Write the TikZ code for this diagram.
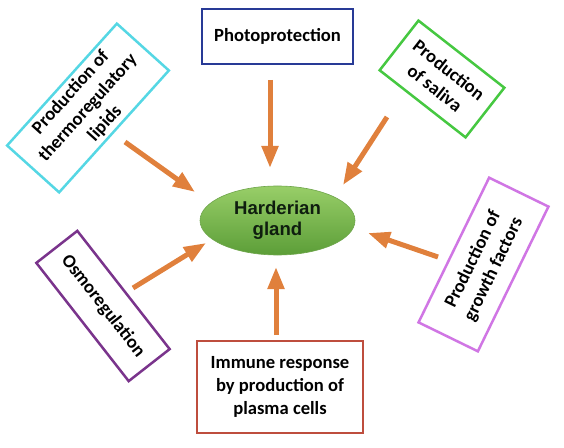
\documentclass[tikz,border=0pt]{standalone}
\usepackage{fontspec}
\setmainfont{Carlito}
\newfontfamily\glandfont{Liberation Sans}
\usetikzlibrary{shapes.geometric, arrows.meta}
\definecolor{feedorange}{RGB}{224,128,60}
\definecolor{photoblue}{RGB}{40,58,150}
\definecolor{thermocyan}{RGB}{85,215,228}
\definecolor{salivagreen}{RGB}{70,200,65}
\definecolor{growthpink}{RGB}{208,118,228}
\definecolor{osmopurple}{RGB}{122,52,140}
\definecolor{immunered}{RGB}{190,78,62}

\begin{document}
\begin{tikzpicture}[x=1bp, y=-1bp,
    role/.style={draw, line width=2.5bp, fill=white, align=center, inner sep=0pt,
      font=\fontsize{18.6bp}{23bp}\selectfont\bfseries},
    glandnode/.style={ellipse, draw={rgb,255:red,110;green,165;blue,75}, line width=0.6bp,
      top color={rgb,255:red,152;green,206;blue,104}, bottom color={rgb,255:red,92;green,158;blue,56},
      minimum width=155bp, minimum height=69bp, inner sep=0pt, align=center,
      text={rgb,255:red,15;green,30;blue,15}, font=\glandfont\fontsize{18.6bp}{21bp}\selectfont\bfseries},
    feed/.style={draw=feedorange, line width=5bp, -{Triangle[length=22bp,width=16bp]}}]
    \useasboundingbox (0,0) rectangle (564,448);
    % boxes round the gland
    \node[role, draw=photoblue, minimum width=151bp, minimum height=55bp] (photo) at (277.5,36.5) {Photoprotection};
    \node[role, draw=thermocyan, rotate=48, minimum width=164bp, minimum height=70bp] (thermo) at (88,108) {Production of\\thermoregulatory\\lipids};
    \node[role, draw=salivagreen, rotate=-38, minimum width=109bp, minimum height=63bp] (saliva) at (442,79) {Production\\of saliva};
    \node[role, draw=growthpink, rotate=64, minimum width=161bp, minimum height=66bp] (growth) at (483.5,264.5) {Production of\\growth factors};
    \node[role, draw=osmopurple, rotate=-52, minimum width=150bp, minimum height=52bp] (osmo) at (103,306) {Osmoregulation};
    \node[role, draw=immunered, minimum width=166bp, minimum height=92bp] (immune) at (280,387) {Immune response\\by production of\\plasma cells};
    \node[glandnode] (gland) at (277.5,220.5) {Harderian\\gland};
    % arrow ends
    \coordinate (photo-tail) at (270,80);   \coordinate (photo-tip) at (270,168);
    \coordinate (thermo-tail) at (125,142); \coordinate (thermo-tip) at (195,192);
    \coordinate (saliva-tail) at (387,117); \coordinate (saliva-tip) at (343,185);
    \coordinate (growth-tail) at (438,257); \coordinate (growth-tip) at (368,233);
    \coordinate (osmo-tail) at (133,288);   \coordinate (osmo-tip) at (206,243);
    \coordinate (immune-tail) at (276,335); \coordinate (immune-tip) at (276,267);
    \foreach \n in {photo,thermo,saliva,growth,osmo,immune}
        \draw[feed] (\n-tail) -- (\n-tip);
\end{tikzpicture}
\end{document}
